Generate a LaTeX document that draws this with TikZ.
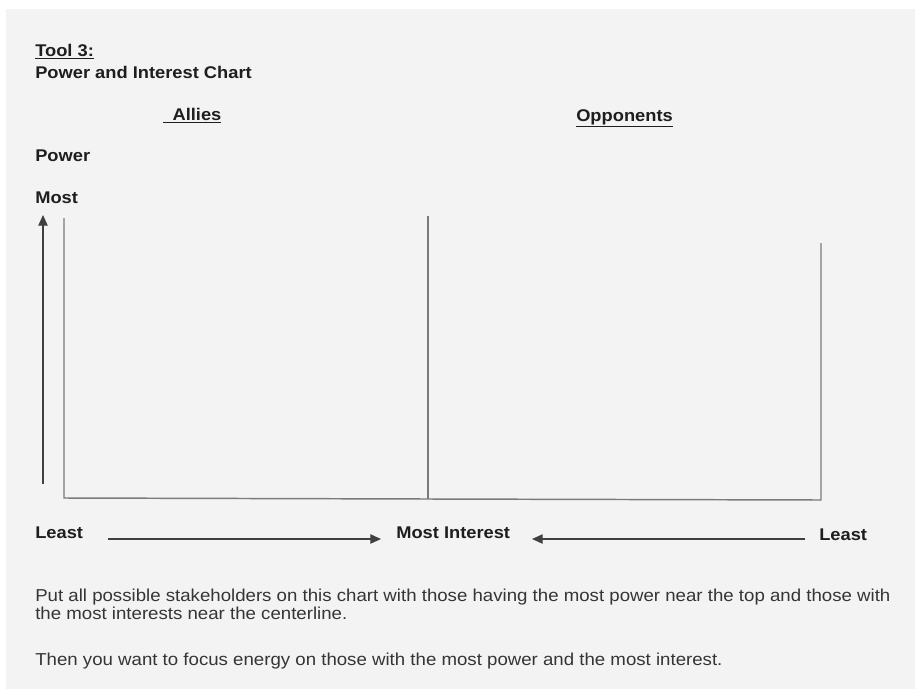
\documentclass[tikz,border=0pt]{standalone}
\usepackage{fontspec}
\setmainfont{Liberation Sans}[FakeStretch=1.08]
\usetikzlibrary{arrows.meta}
\definecolor{paper}{HTML}{F3F3F3}
\definecolor{ink}{HTML}{1E1E1E}
\definecolor{rulegray}{HTML}{7A7A7A}
\begin{document}
\begin{tikzpicture}[x=0.75pt,y=-0.75pt,
  lbl/.style={anchor=base west,inner sep=0pt,text=ink,font=\fontsize{12.7}{14}\selectfont\bfseries},
  body/.style={anchor=base west,inner sep=0pt,text=ink!90,font=\fontsize{12.95}{14}\selectfont},
  frame/.style={draw=rulegray,line width=1.1pt},
  axis/.style={draw=ink!85,line width=0.9pt,-{Triangle[length=8pt,width=7pt]}}]
\useasboundingbox (0,0) rectangle (915,689);
\fill[white] (0,0) rectangle (915,689);
\fill[paper] (6,9) rectangle (915,689);
% titles
\node[lbl] (tool) at (35,56) {\underline{Tool 3:}};
\node[lbl] (title) at (35,78) {Power and Interest Chart};
\node[lbl] (allies) at (163,120) {\underline{\hspace{7pt}Allies}};
\node[lbl] (opp) at (576,121) {\underline{Opponents}};
\node[lbl] (power) at (35,161) {Power};
\node[lbl] (most) at (35,203) {Most};
\node[lbl] (leastl) at (35,538) {Least};
\node[lbl] (mostint) at (396,538) {Most Interest};
\node[lbl] (leastr) at (819,540) {Least};
% body text
\node[body] (p1) at (35,601) {Put all possible stakeholders on this chart with those having the most power near the top and those with};
\node[body] (p2) at (35,619) {the most interests near the centerline.};
\node[body] (p3) at (35,665) {Then you want to focus energy on those with the most power and the most interest.};
% chart frame
\coordinate (lt) at (64,218);
\coordinate (lb) at (64,498);
\coordinate (mt) at (428,216);
\coordinate (mb) at (428,499);
\coordinate (rt) at (821,243);
\coordinate (rb) at (821,500);
\draw[frame] (lt) -- (lb) -- (mb) -- (rb) -- (rt);
\draw[frame,line width=1.8pt] (mt) -- (mb);
% power axis
\coordinate (pa0) at (43,484);
\coordinate (pa1) at (43,215);
\draw[axis] (pa0) -- (pa1);
% interest arrows
\coordinate (ia0) at (108,539);
\coordinate (ia1) at (381,539);
\coordinate (ib0) at (805,539);
\coordinate (ib1) at (532,539);
\draw[axis] (ia0) -- (ia1);
\draw[axis] (ib0) -- (ib1);
\end{tikzpicture}
\end{document}
